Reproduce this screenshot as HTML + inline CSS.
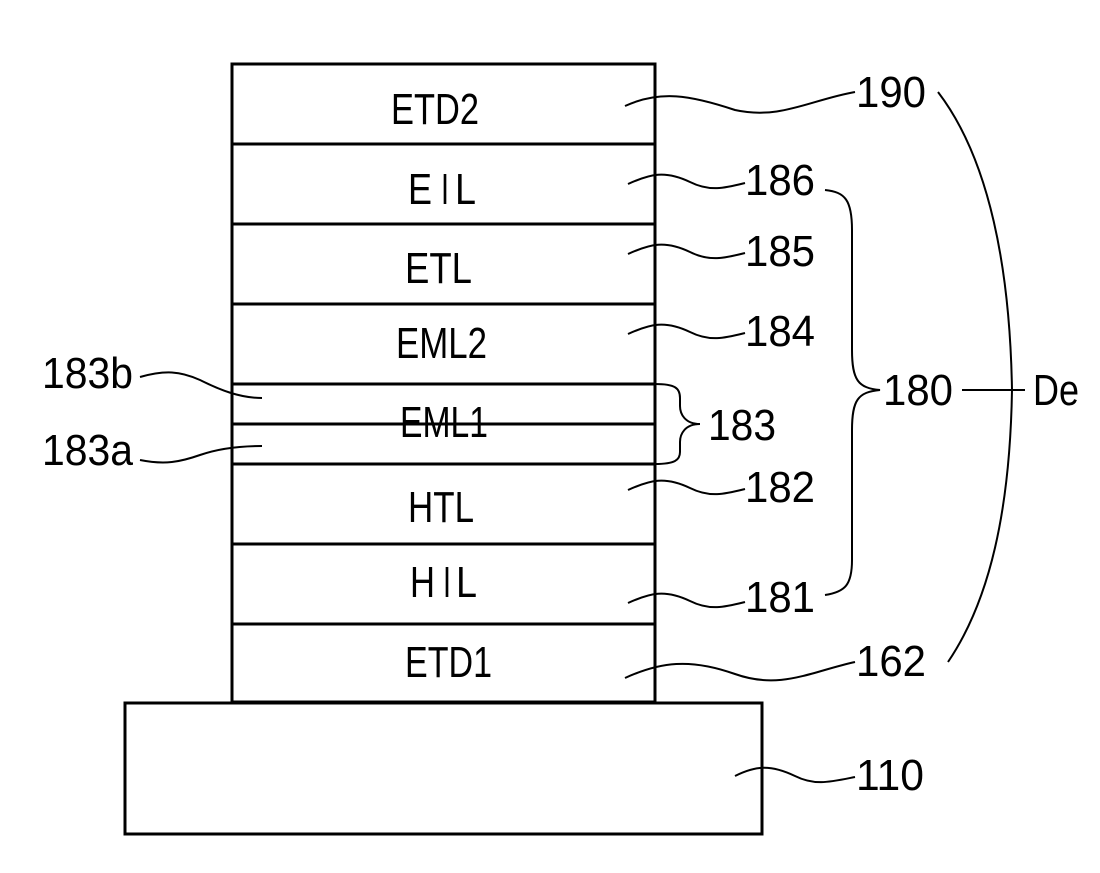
<!DOCTYPE html>
<html><head><style>body{margin:0;background:#fff}svg{display:block}</style></head>
<body>
<svg width="1100" height="873" viewBox="0 0 1100 873" xmlns="http://www.w3.org/2000/svg">
<g fill="none" stroke="#000" stroke-width="3">
<rect x="232" y="64" width="423" height="638"/>
<line x1="232" y1="144" x2="655" y2="144"/>
<line x1="232" y1="224" x2="655" y2="224"/>
<line x1="232" y1="304" x2="655" y2="304"/>
<line x1="232" y1="384" x2="655" y2="384"/>
<line x1="232" y1="424" x2="655" y2="424"/>
<line x1="232" y1="464" x2="655" y2="464"/>
<line x1="232" y1="544" x2="655" y2="544"/>
<line x1="232" y1="624" x2="655" y2="624"/>
<rect x="125" y="703" width="637" height="131"/>
</g>
<g fill="none" stroke="#000" stroke-width="2">
<path d="M625 106 C660 90,690 95,735 110 C780 120,810 100,855 92"/>
<path d="M628 184 C650 174,665 170,690 182 C710 192,725 188,745 183"/>
<path d="M628 254 C650 244,665 240,690 252 C710 262,725 258,745 253"/>
<path d="M628 334 C650 324,665 320,690 332 C710 342,725 338,745 333"/>
<path d="M628 490 C650 480,665 476,690 488 C710 498,725 494,745 489"/>
<path d="M628 603 C650 593,665 589,690 601 C710 611,725 607,745 602"/>
<path d="M625 678 C660 662,690 658,735 674 C780 690,810 672,855 662"/>
<path d="M735 776 C755 766,770 764,795 776 C815 786,830 782,855 777"/>
<path d="M140 377 C165 370,180 371,200 380 C220 390,240 398,262 398"/>
<path d="M140 460 C165 465,180 462,200 455 C220 448,240 446,262 446"/>
<path d="M655 384 C675 384,680 388,680 398 L680 406 C680 414,685 424,700 424 C685 424,680 434,680 442 L680 452 C680 460,675 464,655 464"/>
<path d="M825 190 C845 192,852 200,852 230 L852 350 C852 380,858 388,880 390 C858 392,852 400,852 430 L852 560 C852 585,845 592,825 595"/>
<path d="M938 92 C990 160,1010 270,1012 390 C1010 510,990 600,948 662"/>
<line x1="962" y1="390" x2="1025" y2="390"/>
</g>
<g font-family="Liberation Sans, sans-serif" font-size="44" fill="#000">
<text x="391" y="124" textLength="88" lengthAdjust="spacingAndGlyphs">ETD2</text>
<text x="408" y="204" textLength="24" lengthAdjust="spacingAndGlyphs">E</text>
<text x="441" y="204" textLength="8" lengthAdjust="spacingAndGlyphs">I</text>
<text x="455" y="204" textLength="21" lengthAdjust="spacingAndGlyphs">L</text>
<text x="405" y="283" textLength="67" lengthAdjust="spacingAndGlyphs">ETL</text>
<text x="396" y="358" textLength="91" lengthAdjust="spacingAndGlyphs">EML2</text>
<text x="400" y="437" textLength="88" lengthAdjust="spacingAndGlyphs">EML1</text>
<text x="408" y="522" textLength="66" lengthAdjust="spacingAndGlyphs">HTL</text>
<text x="410" y="597" textLength="25" lengthAdjust="spacingAndGlyphs">H</text>
<text x="443" y="597" textLength="8" lengthAdjust="spacingAndGlyphs">I</text>
<text x="456" y="597" textLength="21" lengthAdjust="spacingAndGlyphs">L</text>
<text x="405" y="677" textLength="87" lengthAdjust="spacingAndGlyphs">ETD1</text>
<text x="856" y="107" textLength="70" lengthAdjust="spacingAndGlyphs">190</text>
<text x="745" y="195" textLength="70" lengthAdjust="spacingAndGlyphs">186</text>
<text x="745" y="266" textLength="70" lengthAdjust="spacingAndGlyphs">185</text>
<text x="745" y="346" textLength="70" lengthAdjust="spacingAndGlyphs">184</text>
<text x="708" y="440" textLength="68" lengthAdjust="spacingAndGlyphs">183</text>
<text x="883" y="405" textLength="70" lengthAdjust="spacingAndGlyphs">180</text>
<text x="1033" y="405" textLength="46" lengthAdjust="spacingAndGlyphs">De</text>
<text x="745" y="502" textLength="70" lengthAdjust="spacingAndGlyphs">182</text>
<text x="745" y="612" textLength="70" lengthAdjust="spacingAndGlyphs">181</text>
<text x="856" y="676" textLength="70" lengthAdjust="spacingAndGlyphs">162</text>
<text x="856" y="790" textLength="68" lengthAdjust="spacingAndGlyphs">110</text>
<text x="42" y="388" textLength="91" lengthAdjust="spacingAndGlyphs">183b</text>
<text x="42" y="465" textLength="91" lengthAdjust="spacingAndGlyphs">183a</text>
</g>
</svg>
</body></html>
